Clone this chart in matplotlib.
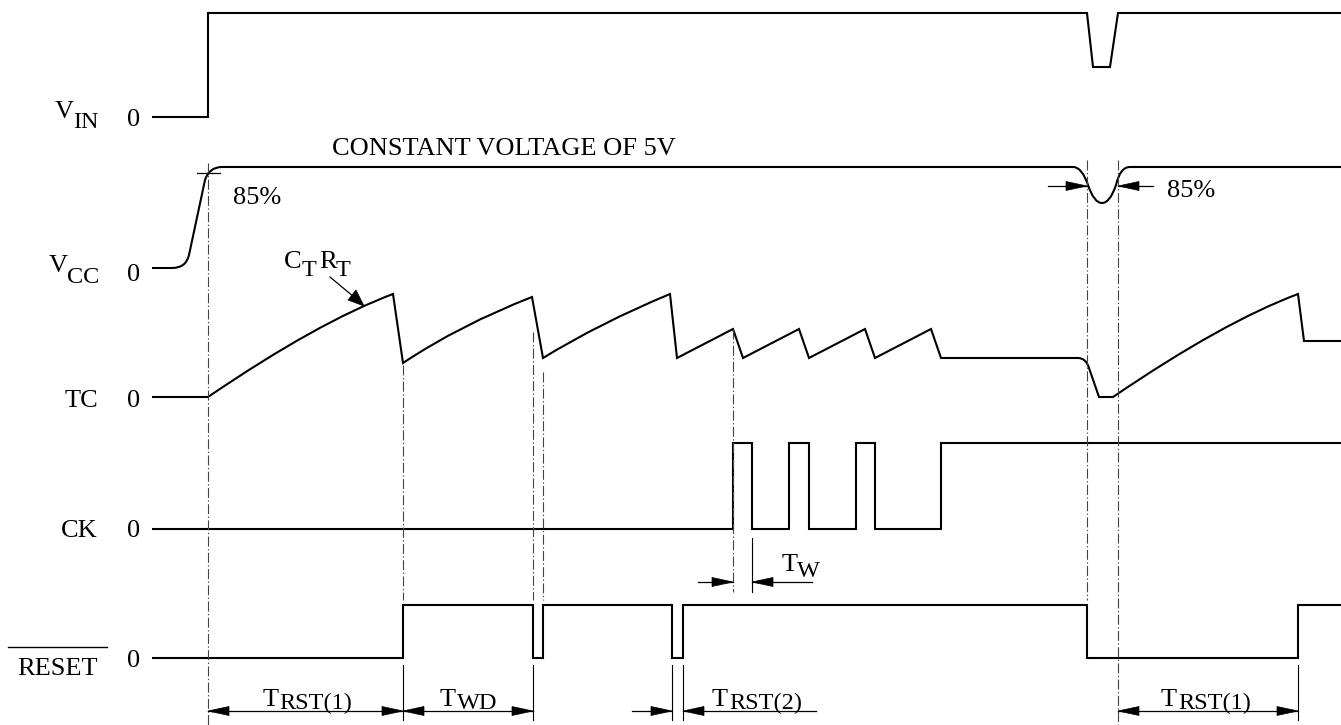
import matplotlib
matplotlib.use('Agg')
import matplotlib.pyplot as plt
from matplotlib.path import Path
from matplotlib.patches import PathPatch, Polygon

plt.rcParams['font.family'] = ['Liberation Serif', 'DejaVu Serif']

W, H = 1341, 725

# ---- waveforms (diagram units, y grows downward); codes: M move, L line, Q quadratic ctrl/end
vin_x = [152, 208, 208, 1087, 1093, 1110, 1118, 1341]
vin_y = [117, 117, 13, 13, 67, 67, 13, 13]
vin_c = "MLLLLLLL"

vcc_x = [152, 172, 186, 189, 205, 209, 222, 1073, 1082, 1088, 1094, 1102, 1110, 1116, 1120, 1130, 1341]
vcc_y = [268, 268, 268, 255, 180, 167, 167, 167, 167, 185, 203, 203, 203, 185, 167, 167, 167]
vcc_c = "MLQQLQQLQQQQQQQQL"

tc_x = [152, 208, 318, 393, 403, 460, 532, 543, 600, 670,
        677, 733, 743, 799, 809, 865, 875, 931, 941, 1078,
        1086, 1089, 1099, 1113, 1223, 1298, 1304, 1341]
tc_y = [397, 397, 322, 294, 363, 325, 297, 358, 323, 294,
        358, 329, 358, 329, 358, 329, 358, 329, 358, 358,
        358, 368, 397, 397, 322, 294, 341, 341]
tc_c = "MLQQLQQLQQ" + "L" * 10 + "QQLLQQLL"

ck_x = [152, 733, 733, 752, 752, 789, 789, 809, 809, 856, 856, 875, 875, 941, 941, 1341]
ck_y = [529, 529, 443, 443, 529, 529, 443, 443, 529, 529, 443, 443, 529, 529, 443, 443]
ck_c = "M" + "L" * 15

rst_x = [152, 403, 403, 533, 533, 543, 543, 672, 672, 683, 683, 1087, 1087, 1298, 1298, 1341]
rst_y = [658, 658, 605, 605, 658, 658, 605, 605, 658, 658, 605, 605, 658, 658, 605, 605]
rst_c = "M" + "L" * 15

# ---- guide lines
guide_x = [208, 403, 533, 543, 733, 1087, 1118]
guide_top = [163, 365, 332, 372, 329, 160, 160]
guide_bot = [725, 600, 600, 600, 592, 600, 725]

tick_x = [403, 533, 672, 683, 1298, 752]
tick_top = [665, 665, 665, 665, 665, 538]
tick_bot = [720, 720, 720, 720, 720, 592]

# ---- dimension arrows
shaft_x0 = [208, 403, 632, 683, 1118, 698, 752, 1048, 1118]
shaft_x1 = [403, 533, 672, 816, 1298, 733, 812, 1087, 1153]
shaft_y = [711, 711, 711, 711, 711, 582, 582, 186, 186]

head_x = [208, 403, 403, 533, 672, 683, 1118, 1298, 733, 752, 1087, 1118]
head_y = [711, 711, 711, 711, 711, 711, 711, 711, 582, 582, 186, 186]
head_dir = [-1, 1, -1, 1, 1, -1, -1, 1, 1, -1, 1, -1]

# ---- labels
row_zero_y = [126, 281, 407, 537, 667]

fig = plt.figure(figsize=(W / 100, H / 100), dpi=100)
ax = fig.add_axes([0, 0, 1, 1])
ax.set_xlim(0, W)
ax.set_ylim(H, 0)
ax.axis('off')

CODE = {"M": Path.MOVETO, "L": Path.LINETO, "Q": Path.CURVE3}

def wave(xs, ys, cs):
    p = Path(list(zip(xs, ys)), [CODE[c] for c in cs])
    ax.add_patch(PathPatch(p, fill=False, lw=1.5, edgecolor='black',
                           joinstyle='miter', capstyle='butt'))

for xs, ys, cs in [(vin_x, vin_y, vin_c), (vcc_x, vcc_y, vcc_c), (tc_x, tc_y, tc_c),
                   (ck_x, ck_y, ck_c), (rst_x, rst_y, rst_c)]:
    wave(xs, ys, cs)

dd = (0, (9, 2.2, 1.2, 2.2))
for gx, gt, gb in zip(guide_x, guide_top, guide_bot):
    ax.plot([gx, gx], [gt, gb], color='#444444', lw=0.8, linestyle=dd)

for tx, tt, tb in zip(tick_x, tick_top, tick_bot):
    ax.plot([tx, tx], [tt, tb], color='black', lw=0.8)

for x0, x1, y in zip(shaft_x0, shaft_x1, shaft_y):
    ax.plot([x0, x1], [y, y], color='black', lw=0.9)

L, HW = 21, 4.5
for hx, hy, d in zip(head_x, head_y, head_dir):
    ax.add_patch(Polygon([(hx, hy), (hx - d * L, hy - HW), (hx - d * L, hy + HW)],
                         closed=True, facecolor='black', edgecolor='black', lw=0.5))

# 85% tick on VCC rise
ax.plot([197, 220], [173, 173], color='black', lw=0.9)

# CT RT pointer
ax.plot([330, 354], [277, 297], color='black', lw=0.9)
ax.add_patch(Polygon([(364, 306), (348, 300), (356, 290)], closed=True,
                     facecolor='black', edgecolor='black', lw=0.5))

FS = 19
SUB = 17.5
# row labels
ax.text(55, 118, "V", fontsize=FS, ha='left', va='baseline')
ax.text(73, 128, "IN", fontsize=SUB, ha='left', va='baseline')
ax.text(49, 272, "V", fontsize=FS, ha='left', va='baseline')
ax.text(67, 283, "CC", fontsize=SUB, ha='left', va='baseline')
ax.text(98, 407, "TC", fontsize=FS, ha='right', va='baseline')
ax.text(98, 537, "CK", fontsize=FS, ha='right', va='baseline')
ax.text(98, 675, "RESET", fontsize=FS, ha='right', va='baseline')
ax.plot([8, 107], [647, 647], color='black', lw=1.0)
for zy in row_zero_y:
    ax.text(134, zy, "0", fontsize=FS, ha='center', va='baseline')

ax.text(332, 155, "CONSTANT VOLTAGE OF 5V", fontsize=FS, ha='left', va='baseline')
ax.text(233, 204, "85%", fontsize=FS, ha='left', va='baseline')
ax.text(1167, 197, "85%", fontsize=FS, ha='left', va='baseline')

# CT RT
ax.text(284, 268, "C", fontsize=FS, ha='left', va='baseline')
ax.text(302, 276, "T", fontsize=SUB, ha='left', va='baseline')
ax.text(319, 268, "R", fontsize=FS, ha='left', va='baseline')
ax.text(336, 276, "T", fontsize=SUB, ha='left', va='baseline')

# dimension labels
ax.text(263, 706, "T", fontsize=FS, ha='left', va='baseline')
ax.text(279, 709, "RST(1)", fontsize=SUB, ha='left', va='baseline')
ax.text(440, 706, "T", fontsize=FS, ha='left', va='baseline')
ax.text(457, 709, "WD", fontsize=SUB, ha='left', va='baseline')
ax.text(712, 706, "T", fontsize=FS, ha='left', va='baseline')
ax.text(729, 709, "RST(2)", fontsize=SUB, ha='left', va='baseline')
ax.text(1161, 706, "T", fontsize=FS, ha='left', va='baseline')
ax.text(1178, 709, "RST(1)", fontsize=SUB, ha='left', va='baseline')
ax.text(782, 571, "T", fontsize=FS, ha='left', va='baseline')
ax.text(797, 577, "W", fontsize=SUB, ha='left', va='baseline')

fig.savefig("out.png", dpi=100, facecolor='white')
